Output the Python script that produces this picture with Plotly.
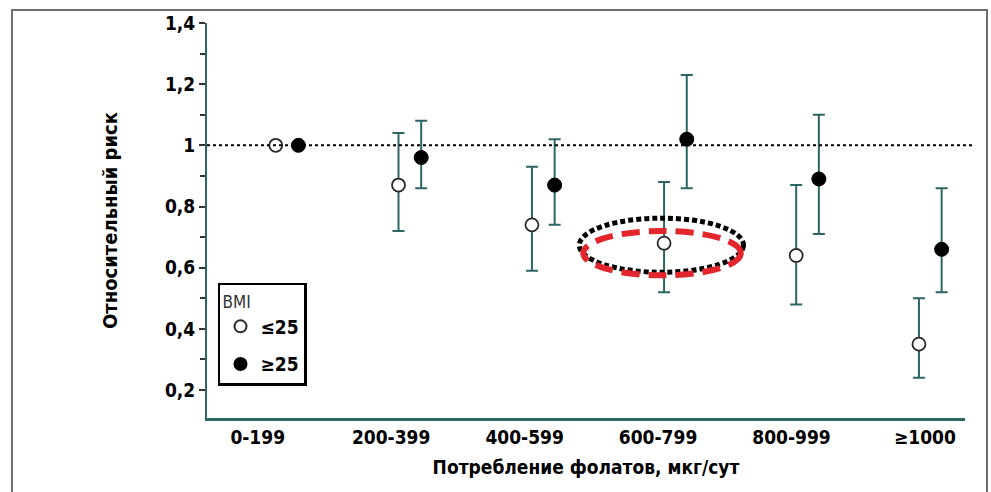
import plotly.graph_objects as go

categories = ["0-199", "200-399", "400-599", "600-799", "800-999", "≥1000"]
rr_low = [1.00, 0.87, 0.74, 0.68, 0.64, 0.35]
lo_low = [1.00, 0.72, 0.59, 0.52, 0.48, 0.24]
hi_low = [1.00, 1.04, 0.93, 0.88, 0.87, 0.50]
rr_high = [1.00, 0.96, 0.87, 1.02, 0.89, 0.66]
lo_high = [1.00, 0.86, 0.74, 0.86, 0.71, 0.52]
hi_high = [1.00, 1.08, 1.02, 1.23, 1.10, 0.86]
y_ticks = [0.2, 0.4, 0.6, 0.8, 1.0, 1.2, 1.4]
y_tick_text = ["0,2", "0,4", "0,6", "0,8", "1", "1,2", "1,4"]

# visual layout of groups (the source places point pairs slightly right of labels)
group_shift = [0.22, 0.14, 0.14, 0.13, 0.12, 0.04]
pair_off = 0.085

teal = "#2e6665"
font_fam = "DejaVu Sans Condensed, DejaVu Sans, sans-serif"

x_low = [i + s - pair_off for i, s in enumerate(group_shift)]
x_high = [i + s + pair_off for i, s in enumerate(group_shift)]

fig = go.Figure()
fig.add_trace(go.Scatter(
    x=x_low, y=rr_low, mode="markers", name="≤25", legendgroup="a",
    marker=dict(size=13, color="white", line=dict(color="#2a2a2a", width=1.8)),
    error_y=dict(type="data", symmetric=False,
                 array=[h - v for h, v in zip(hi_low, rr_low)],
                 arrayminus=[v - l for v, l in zip(rr_low, lo_low)],
                 color=teal, thickness=2, width=6),
))
fig.add_trace(go.Scatter(
    x=x_high, y=rr_high, mode="markers", name="≥25", legendgroup="b",
    marker=dict(size=14, color="black", line=dict(color="black", width=1)),
    error_y=dict(type="data", symmetric=False,
                 array=[h - v for h, v in zip(hi_high, rr_high)],
                 arrayminus=[v - l for v, l in zip(rr_high, lo_high)],
                 color=teal, thickness=2, width=6),
))

shapes = [
    # outer frame
    dict(type="rect", xref="paper", yref="paper", x0=-0.2573, x1=1.029, y0=-0.25, y1=1.033,
         line=dict(color="#6e6e6e", width=2), layer="below"),
    # reference line at RR = 1
    dict(type="line", xref="paper", yref="y", x0=0, x1=1.013, y0=1, y1=1,
         line=dict(color="black", width=2, dash="dot")),
    # highlight ellipses
    dict(type="circle", xref="x", yref="y", x0=2.41, x1=3.64, y0=0.585, y1=0.762,
         line=dict(color="black", width=5, dash="5px,3px")),
    dict(type="circle", xref="x", yref="y", x0=2.44, x1=3.62, y0=0.575, y1=0.72,
         line=dict(color="#e3262b", width=6, dash="18px,9px")),
]

fig.update_layout(
    width=991, height=492,
    margin=dict(l=207, r=26, t=23, b=74),
    paper_bgcolor="white", plot_bgcolor="white",
    font=dict(family=font_fam, color="black"),
    showlegend=True,
    legend=dict(
        title=dict(text="BMI", font=dict(size=17, color="#333333", weight="normal",
                                         family=font_fam)),
        x=0.0145, y=0.342, xanchor="left", yanchor="top",
        bordercolor="black", borderwidth=2.5, bgcolor="white",
        font=dict(size=19, family=font_fam, weight="bold"),
        itemsizing="constant", tracegroupgap=10,
    ),
    shapes=shapes,
    xaxis=dict(
        range=[-0.38, 5.30], tickmode="array", tickvals=list(range(len(categories))),
        ticktext=categories, showgrid=False, zeroline=False,
        showline=True, linecolor=teal, linewidth=3, ticks="",
        tickfont=dict(size=19, family=font_fam, weight="bold"),
        title=dict(text="Потребление фолатов, мкг/сут", standoff=14,
                   font=dict(size=19, family=font_fam, weight="bold")),
    ),
    yaxis=dict(
        range=[0.1085, 1.40], tickmode="array", tickvals=y_ticks, ticktext=y_tick_text,
        showgrid=False, zeroline=False, showline=True, linecolor=teal, linewidth=2,
        ticks="outside", ticklen=6, tickwidth=2, tickcolor="#333333",
        minor=dict(dtick=0.1, ticks="outside", ticklen=5, tickwidth=2, tickcolor="#333333"),
        tickfont=dict(size=19, family=font_fam, weight="bold"),
        title=dict(text="Относительный риск", standoff=42,
                   font=dict(size=20, family=font_fam, weight="bold")),
    ),
)

fig.write_html("out.html")
